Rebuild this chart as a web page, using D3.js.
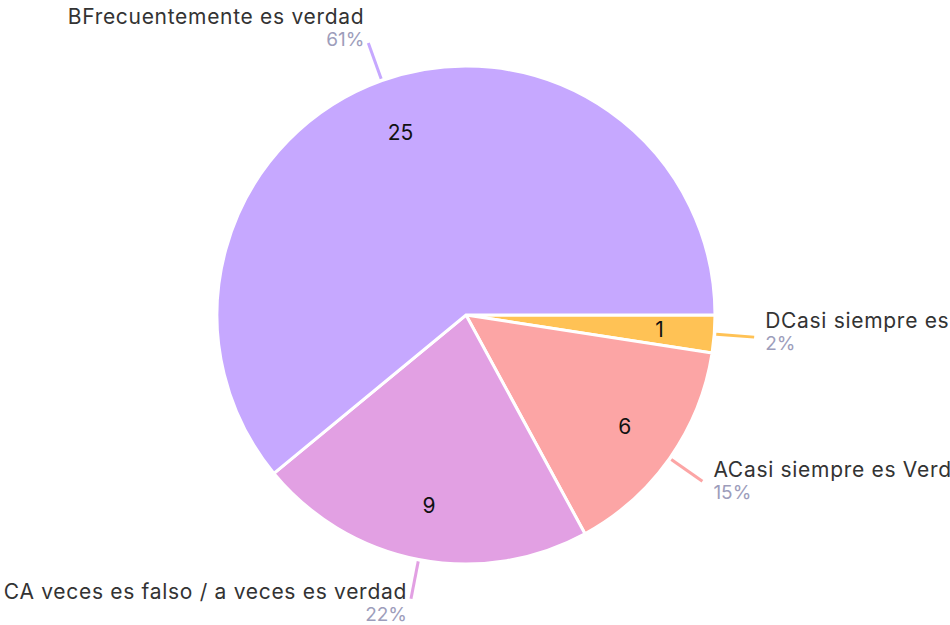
<!DOCTYPE html>
<html>
<head>
<meta charset="utf-8">
<script src="https://cdn.jsdelivr.net/npm/d3@7"></script>
<style>
  body { margin: 0; background: #fff; }
  svg { display: block; }
  text { font-family: "Inter", "Noto Sans", sans-serif; }
</style>
</head>
<body>
<svg width="950" height="625"></svg>
<script>
var width = 950;
var height = 625;

// slices in drawing order (clockwise from 3 o'clock)
var categories = ["DCasi siempre es falso", "ACasi siempre es Verdad", "CA veces es falso / a veces es verdad", "BFrecuentemente es verdad"];
var counts = [1, 6, 9, 25];
var colors = ["#ffc255", "#fca5a5", "#e2a0e3", "#c6a8ff"];

var cx = 466, cy = 315, radius = 249;
var total = d3.sum(counts);

var data = categories.map(function (c, i) {
    return { name: c, value: counts[i], color: colors[i] };
});

var svg = d3.select("svg");
var g = svg.append("g").attr("transform", "translate(" + cx + "," + cy + ")");

var pie = d3.pie()
    .sort(null)
    .value(function (d) { return d.value; })
    .startAngle(Math.PI / 2)
    .endAngle(Math.PI / 2 + 2 * Math.PI);

var arcs = pie(data);
var arc = d3.arc().innerRadius(0).outerRadius(radius);
var labelArc = d3.arc().innerRadius(194).outerRadius(194);

g.selectAll("path.slice")
    .data(arcs)
    .enter()
    .append("path")
    .attr("class", "slice")
    .attr("d", arc)
    .attr("fill", function (d) { return d.data.color; })
    .attr("stroke", "#fff")
    .attr("stroke-width", 3);

// counts inside the slices
g.selectAll("text.count")
    .data(arcs)
    .enter()
    .append("text")
    .attr("class", "count")
    .attr("transform", function (d) { return "translate(" + labelArc.centroid(d) + ")"; })
    .attr("text-anchor", "middle")
    .attr("dy", "0.36em")
    .attr("font-size", "21px")
    .attr("fill", "#111")
    .text(function (d) { return d.data.value; });

// leader lines + outside labels
function midAngle(d) { return (d.startAngle + d.endAngle) / 2; }
function polar(a, r) { return [r * Math.sin(a), -r * Math.cos(a)]; }

var outer = g.selectAll("g.outer")
    .data(arcs)
    .enter()
    .append("g")
    .attr("class", "outer");

outer.append("line")
    .attr("x1", function (d) { return polar(midAngle(d), radius + 2)[0]; })
    .attr("y1", function (d) { return polar(midAngle(d), radius + 2)[1]; })
    .attr("x2", function (d) { return polar(midAngle(d), radius + 40)[0]; })
    .attr("y2", function (d) { return polar(midAngle(d), radius + 40)[1]; })
    .attr("stroke", function (d) { return d.data.color; })
    .attr("stroke-width", 3);

function labelPos(d) {
    var a = midAngle(d);
    var p = polar(a, radius + 40);
    var right = Math.sin(a) > 0;
    var off = -10 * Math.cos(a) + 1;
    return { x: p[0] + (right ? 11 : -4), y: p[1] + off, right: right };
}

outer.append("text")
    .attr("x", function (d) { return labelPos(d).x; })
    .attr("y", function (d) { return labelPos(d).y - 11; })
    .attr("text-anchor", function (d) { return labelPos(d).right ? "start" : "end"; })
    .attr("font-size", "21px")
    .attr("letter-spacing", "0.7px")
    .attr("fill", "#333")
    .text(function (d) { return d.data.name; });

outer.append("text")
    .attr("x", function (d) { return labelPos(d).x; })
    .attr("y", function (d) { return labelPos(d).y + 11; })
    .attr("text-anchor", function (d) { return labelPos(d).right ? "start" : "end"; })
    .attr("font-size", "19px")
    .attr("fill", "#9d9dbb")
    .text(function (d) { return Math.round(d.data.value / total * 100) + "%"; });
</script>
</body>
</html>
